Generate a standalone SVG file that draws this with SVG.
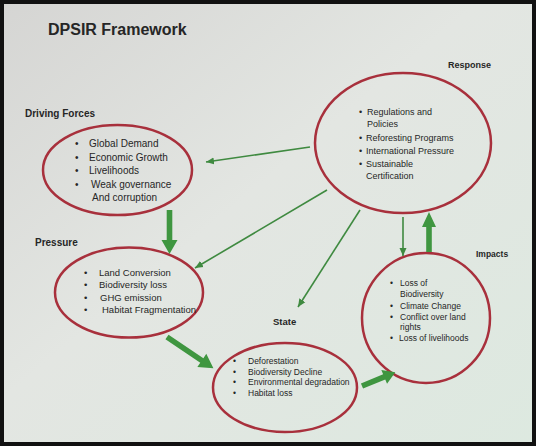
<svg xmlns="http://www.w3.org/2000/svg" width="536" height="446" viewBox="0 0 536 446">
<defs>
<linearGradient id="bg" x1="0" y1="0" x2="1" y2="1">
<stop offset="0" stop-color="#d5d5d3"/>
<stop offset="0.45" stop-color="#e3e6e2"/>
<stop offset="1" stop-color="#dde9e0"/>
</linearGradient>
<marker id="ah" markerUnits="userSpaceOnUse" markerWidth="9" markerHeight="8" refX="8" refY="4" orient="auto">
<path d="M0,0.5 L8,4 L0,7.5 Z" fill="#3f8a40"/>
</marker>
<style>
.t{font-family:"Liberation Sans",Arial,sans-serif;fill:#262626}
.title{font-size:16px;font-weight:bold}
.lbl{font-weight:bold}
.node ellipse{fill:none;stroke:#a8303c;stroke-width:2.5}
.thin{stroke:#3f8a40;stroke-width:1.6;fill:none;marker-end:url(#ah)}
.thick{fill:#3f9640}
</style>
</defs>
<rect x="0" y="0" width="536" height="446" fill="url(#bg)"/>
<rect x="2" y="2" width="532" height="442" fill="none" stroke="#111" stroke-width="4"/>
<text class="t title" x="48" y="35">DPSIR Framework</text>

<g id="driving-forces" class="node">
<text class="t lbl" x="25" y="117" font-size="10">Driving Forces</text>
<ellipse cx="117.5" cy="170" rx="74.5" ry="45"/>
<g class="t" font-size="10">
<text x="75" y="147">•</text><text x="89" y="147">Global Demand</text>
<text x="75" y="160.5">•</text><text x="89" y="160.5">Economic Growth</text>
<text x="75" y="174">•</text><text x="89" y="174">Livelihoods</text>
<text x="75" y="187.5">•</text><text x="91" y="187.5">Weak governance</text>
<text x="92" y="201">And corruption</text>
</g>
</g>

<g id="pressure" class="node">
<text class="t lbl" x="35" y="246" font-size="10">Pressure</text>
<ellipse cx="129" cy="292.5" rx="74" ry="45"/>
<g class="t" font-size="9.5">
<text x="84" y="276">•</text><text x="99" y="276">Land Conversion</text>
<text x="84" y="288.3">•</text><text x="99" y="288.3">Biodiversity loss</text>
<text x="84" y="300.6">•</text><text x="100" y="300.6">GHG emission</text>
<text x="84" y="313">•</text><text x="102" y="313">Habitat Fragmentation</text>
</g>
</g>

<g id="state" class="node">
<text class="t lbl" x="273" y="325" font-size="9.5">State</text>
<ellipse cx="285" cy="387.5" rx="72" ry="44.5"/>
<g class="t" font-size="8.5">
<text x="233" y="364">•</text><text x="248" y="364">Deforestation</text>
<text x="233" y="374.7">•</text><text x="248" y="374.7">Biodiversity Decline</text>
<text x="233" y="385.4">•</text><text x="248" y="385.4">Environmental degradation</text>
<text x="233" y="396">•</text><text x="248" y="396">Habitat loss</text>
</g>
</g>

<g id="impacts" class="node">
<text class="t lbl" x="476" y="257" font-size="8.5">Impacts</text>
<ellipse cx="426" cy="318" rx="64" ry="65"/>
<g class="t" font-size="8.5">
<text x="390" y="286">•</text><text x="400" y="286">Loss of</text>
<text x="400" y="297">Biodiversity</text>
<text x="390" y="308.5">•</text><text x="400" y="308.5">Climate Change</text>
<text x="390" y="319.5">•</text><text x="400" y="319.5">Conflict over land</text>
<text x="400" y="330">rights</text>
<text x="390" y="340.5">•</text><text x="399" y="340.5">Loss of livelihoods</text>
</g>
</g>

<g id="response" class="node">
<text class="t lbl" x="448" y="68" font-size="9">Response</text>
<ellipse cx="403" cy="143" rx="88" ry="70"/>
<g class="t" font-size="9">
<text x="359" y="115">•</text><text x="367" y="115">Regulations and</text>
<text x="367" y="126.5">Policies</text>
<text x="359" y="141">•</text><text x="366" y="141">Reforesting Programs</text>
<text x="359" y="154">•</text><text x="366" y="154">International Pressure</text>
<text x="359" y="167">•</text><text x="366" y="167">Sustainable</text>
<text x="366" y="179">Certification</text>
</g>
</g>

<g id="connectors">
<line class="thin" x1="310" y1="147" x2="206" y2="162"/>
<line class="thin" x1="327" y1="190" x2="195" y2="268"/>
<line class="thin" x1="360" y1="210" x2="298" y2="307"/>
<line class="thin" x1="403" y1="217" x2="403" y2="256"/>
<path class="thick" transform="translate(169.5,210) rotate(90)" d="M0,-2.8 L30,-2.8 L30,-8 L44,0 L30,8 L30,2.8 L0,2.8 Z"/>
<path class="thick" transform="translate(167,337) rotate(34)" d="M0,-2.8 L42,-2.8 L42,-8 L56,0 L42,8 L42,2.8 L0,2.8 Z"/>
<path class="thick" transform="translate(362,386) rotate(-22.4)" d="M0,-2.8 L24,-2.8 L24,-7.5 L36,0 L24,7.5 L24,2.8 L0,2.8 Z"/>
<path class="thick" transform="translate(429,252) rotate(-90)" d="M0,-2.8 L25,-2.8 L25,-7 L40,0 L25,7 L25,2.8 L0,2.8 Z"/>
</g>
</svg>
